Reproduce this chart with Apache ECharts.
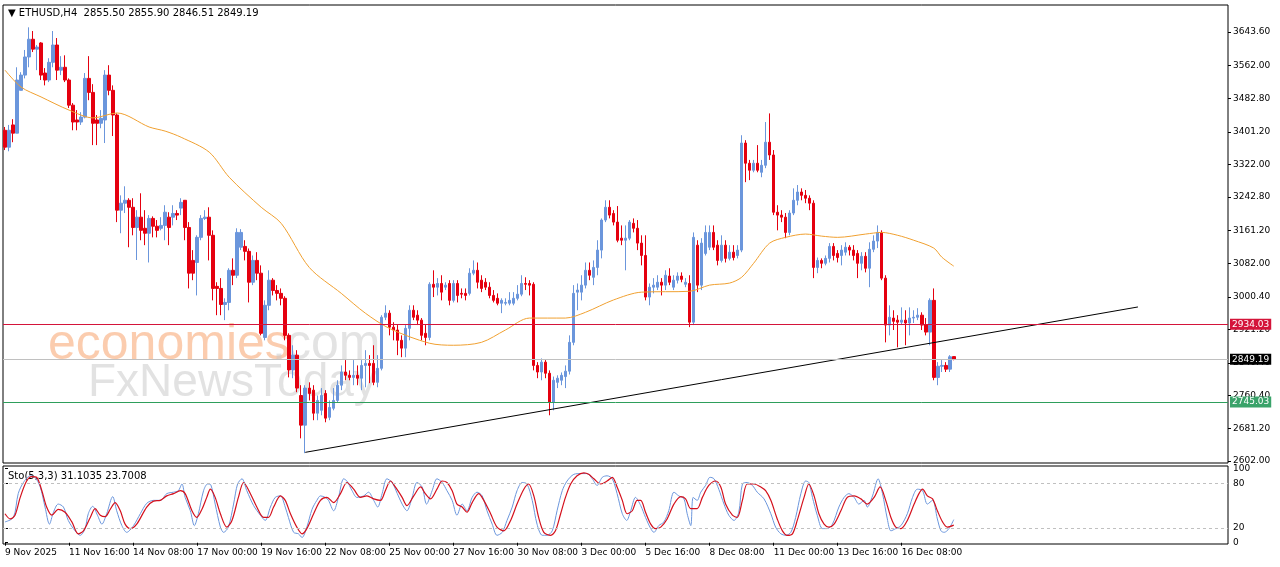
<!DOCTYPE html>
<html><head><meta charset="utf-8">
<script src="https://cdn.jsdelivr.net/npm/echarts@6/dist/echarts.min.js"></script>
<style>html,body{margin:0;padding:0;background:#fff}#c{width:1280px;height:567px}</style>
</head><body><div id="c"></div>
<script>
// [open, close, low, high]
const candles = [
[3405,3364,3357,3413],[3364,3405,3354,3418],[3418,3398,3376,3432],[3398,3527,3398,3558],[3502,3539,3502,3546],
[3539,3583,3531,3600],[3583,3626,3558,3655],[3626,3602,3595,3646],[3602,3607,3551,3612],[3617,3539,3527,3619],
[3544,3527,3514,3556],[3527,3570,3522,3580],[3570,3612,3558,3646],[3612,3551,3527,3629],[3551,3558,3539,3585],
[3558,3527,3522,3587],[3527,3466,3459,3531],[3466,3425,3405,3471],[3430,3425,3405,3454],[3425,3437,3418,3449],
[3437,3531,3434,3544],[3531,3497,3478,3585],[3497,3422,3369,3517],[3430,3422,3369,3442],[3422,3434,3410,3454],
[3430,3539,3374,3551],[3539,3502,3490,3563],[3502,3442,3391,3514],[3442,3211,3182,3446],[3211,3228,3155,3247],
[3228,3235,3204,3269],[3235,3218,3121,3240],[3218,3169,3150,3240],[3169,3194,3090,3211],[3194,3162,3138,3252],
[3167,3155,3126,3211],[3155,3191,3084,3199],[3191,3172,3145,3196],[3172,3162,3145,3187],[3167,3174,3162,3194],
[3174,3206,3138,3223],[3194,3169,3126,3206],[3194,3203,3174,3223],[3203,3199,3187,3211],[3216,3230,3199,3240],
[3235,3169,3138,3235],[3169,3058,3021,3182],[3089,3058,3041,3114],[3084,3145,3004,3150],[3145,3191,3138,3199],
[3191,3194,3187,3211],[3194,3150,3089,3218],[3150,3021,2992,3162],[3026,3021,2956,3036],[3021,2982,2956,3046],
[2982,2987,2944,2997],[2987,3065,2968,3070],[3065,3053,3029,3094],[3053,3157,3046,3167],[3121,3157,3114,3165],
[3123,3111,3089,3138],[3111,3036,2987,3118],[3036,3089,3029,3101],[3089,3058,3041,3109],[3058,2912,2907,3077],
[2902,2980,2895,2992],[2980,3041,2968,3065],[3041,3016,3004,3046],[3016,3009,2992,3029],[3009,2997,2980,3021],
[2997,2907,2895,3002],[2907,2823,2805,2912],[2823,2859,2803,2883],[2859,2779,2769,2871],[2761,2689,2657,2786],
[2689,2779,2621,2786],[2779,2766,2749,2793],[2774,2718,2701,2786],[2718,2749,2701,2761],[2725,2761,2713,2779],
[2766,2706,2696,2774],[2708,2732,2701,2749],[2730,2749,2725,2779],[2749,2786,2745,2798],[2786,2818,2774,2834],
[2818,2810,2798,2847],[2810,2805,2798,2822],[2805,2810,2786,2847],[2810,2803,2786,2834],[2803,2834,2774,2847],
[2834,2839,2781,2871],[2839,2834,2791,2859],[2839,2793,2786,2883],[2793,2827,2781,2859],[2827,2951,2822,2956],
[2951,2961,2944,2980],[2961,2927,2907,2968],[2927,2920,2895,2939],[2920,2895,2859,2932],[2895,2876,2854,2907],
[2876,2924,2854,2932],[2924,2968,2895,2980],[2968,2951,2944,2980],[2956,2944,2932,2968],[2944,2907,2895,2949],
[2912,2902,2883,2932],[2902,3031,2895,3036],[3031,3024,3000,3065],[3024,3033,3004,3046],[3033,3012,2992,3053],
[3024,3029,3017,3036],[3033,2992,2980,3041],[2992,3033,2987,3041],[3033,3004,2987,3041],[3009,3007,2997,3021],
[3009,3004,2992,3021],[3009,3058,3004,3070],[3058,3065,3053,3089],[3065,3036,3021,3084],[3041,3021,3012,3053],
[3036,3024,3017,3046],[3024,3004,2997,3036],[3004,2992,2987,3017],[2997,2985,2980,3009],[2985,2992,2961,2997],
[2985,2987,2980,2997],[2985,2992,2980,3012],[2985,2997,2980,3012],[2997,3007,2992,3029],[3007,3033,3002,3053],
[3033,3031,3017,3048],[3033,3029,3004,3041],[3031,2834,2822,3036],[2834,2818,2803,2842],[2818,2842,2798,2851],
[2842,2815,2803,2847],[2815,2744,2713,2822],[2744,2798,2725,2807],[2793,2803,2779,2810],[2798,2810,2786,2817],
[2807,2820,2779,2834],[2820,2890,2812,2907],[2890,3009,2883,3029],[3012,3017,2968,3033],[3012,3029,2992,3053],
[3029,3065,3021,3084],[3065,3053,3041,3084],[3048,3072,3029,3089],[3072,3114,3053,3138],[3114,3187,3094,3191],
[3187,3218,3182,3235],[3218,3199,3191,3235],[3203,3182,3174,3211],[3182,3138,3133,3221],[3143,3138,3126,3174],
[3138,3143,3065,3174],[3143,3182,3138,3187],[3179,3167,3157,3191],[3167,3131,3114,3187],[3131,3101,3077,3150],
[3101,3000,2992,3150],[3000,3024,2980,3033],[3024,3029,3009,3046],[3024,3036,3017,3053],[3036,3029,3004,3046],
[3029,3053,3017,3065],[3051,3036,3029,3070],[3024,3041,3017,3053],[3041,3051,3033,3060],[3051,3043,3036,3060],
[3031,3036,3024,3046],[3033,2939,2927,3053],[2939,3145,2932,3157],[3126,3029,3012,3138],[3029,3131,3017,3143],
[3106,3157,3101,3174],[3121,3157,3114,3174],[3157,3121,3114,3174],[3126,3089,3077,3138],[3089,3126,3084,3150],
[3126,3094,3084,3138],[3094,3109,3089,3126],[3109,3096,3089,3126],[3101,3114,3094,3126],[3114,3374,3109,3393],
[3374,3325,3279,3381],[3325,3308,3284,3333],[3308,3325,3303,3333],[3325,3308,3303,3369],[3303,3320,3291,3333],
[3320,3376,3313,3425],[3376,3345,3333,3446],[3345,3206,3199,3357],[3206,3199,3162,3223],[3199,3194,3182,3211],
[3194,3157,3143,3204],[3157,3204,3150,3211],[3204,3235,3199,3264],[3235,3255,3223,3272],[3255,3247,3235,3264],
[3247,3240,3228,3260],[3240,3228,3211,3247],[3228,3072,3046,3235],[3072,3089,3058,3096],[3089,3082,3070,3094],
[3082,3094,3077,3101],[3094,3123,3084,3131],[3123,3101,3089,3131],[3106,3096,3084,3114],[3101,3114,3077,3126],
[3109,3121,3101,3133],[3121,3114,3101,3126],[3114,3101,3089,3126],[3106,3082,3046,3114],[3082,3099,3065,3109],
[3099,3070,3060,3109],[3070,3116,3024,3133],[3116,3136,3109,3150],[3136,3157,3119,3174],[3157,3046,3041,3162],
[3046,2932,2890,3053],[2932,2951,2907,2980],[2949,2941,2920,2968],[2944,2939,2878,2956],[2939,2944,2932,2975],
[2944,2937,2883,2968],[2937,2949,2907,2975],[2949,2951,2937,2968],[2951,2956,2944,2973],[2956,2932,2920,2963],
[2932,2915,2907,2949],[2915,2992,2883,2997],[2992,2805,2798,3021],[2805,2832,2786,2842],[2832,2834,2818,2847],
[2834,2825,2818,2842],[2825,2855,2818,2859],[2855.50,2849.19,2846.51,2855.90]
];
// moving average trace [index, value]
const maPoints = [[0,3551],[4,3510],[9,3486],[16,3454],[22,3435],[28,3447],[36,3413],[40,3403],[44,3388],[51,3352],[56,3291],[64,3218],[69,3179],[76,3072],[84,3009],[90,2961],[96,2924],[106,2888],[112,2883],[119,2890],[125,2920],[131,2949],[140,2949],[145,2963],[152,2993],[159,3012],[171,3014],[176,3029],[181,3034],[184,3048],[187,3082],[191,3131],[195,3145],[200,3153],[204,3148],[208,3145],[215,3153],[219,3157],[223,3150],[227,3138],[232,3119],[234,3097],[237,3075]];
const stochK = [[0,28],[2.1,34],[3.3,66],[4.6,81],[6.3,90],[7.5,88],[8.8,75],[10,48],[11.1,25],[12.1,41],[13.3,52],[14.6,48],[15.8,30],[17.5,16],[18.8,10],[20,19],[20.8,39],[21.9,49],[23.1,37],[24.2,25],[25.4,39],[26.9,62],[27.9,43],[29.2,23],[30.4,14],[32.1,23],[33.8,39],[35.4,53],[37.1,57],[38.8,57],[40.4,66],[42.1,68],[43.3,70],[44.2,79],[45,61],[46.3,43],[47.3,23],[48.3,39],[49.6,70],[50.6,79],[51.4,78],[52.5,52],[53.8,21],[54.6,14],[55.8,21],[57.1,52],[58.1,79],[59.2,86],[60.4,70],[62.1,50],[63.8,37],[65,30],[66.3,48],[67.5,61],[68.8,63],[70,48],[70.8,34],[72.1,14],[73.3,12],[74.2,7],[75.4,21],[76.7,45],[77.9,57],
[78.8,63],[80,61],[80.8,57],[82.1,43],[83.3,61],[84.6,86],[85.4,83],[86.7,70],[87.9,61],[89.6,63],[90.8,68],[92.1,57],[93.1,48],[94.2,66],[95.4,86],[96.7,81],[98,66],[99.2,52],[100.4,43],[101.7,61],[102.9,81],[104.2,75],[105.3,52],[106.7,70],[107.9,86],[109.2,81],[110.4,70],[111.7,57],[112.9,37],[114.2,52],[115.4,43],[116.7,61],[117.9,68],[119.2,63],[120.4,43],[121.7,25],[122.9,10],[124.2,14],[125.4,30],[126.7,48],[127.9,70],[129.2,81],[130.4,79],[131.7,57],[132.9,25],[134.2,10],[135.4,10],[136.7,16],[137.9,43],[139.2,70],[140.4,83],[142.1,92],[143.8,93],[145.4,93],[146.7,86],[147.9,77],[149.2,88],[150.4,90],[151.7,86],[152.9,66],[154.2,39],[155.3,30],[156.3,43],[157.5,61],
[158.8,50],[160,34],[161.3,19],[162.1,14],[163.3,23],[164.6,28],[165.8,43],[167.1,68],[168.3,63],[169.6,59],[170.4,39],[171.3,23],[171.9,61],[172.9,57],[173.8,68],[175,77],[176.1,88],[177.1,86],[178.3,72],[179.6,52],[180.8,37],[182.1,30],[183.3,41],[184.2,79],[185.4,81],[186.7,77],[187.9,68],[189.6,59],[191.3,39],[192.5,21],[193.8,12],[195,10],[196.3,14],[197.5,34],[198.8,66],[200,83],[200.8,81],[201.7,61],[202.9,37],[204.2,19],[205.4,19],[206.7,25],[208.3,48],[209.6,61],[210.8,66],[212.1,61],[213.3,52],[214.6,57],[215.4,48],[216.7,63],[218.1,86],[219.2,66],[220.4,32],[221.3,16],[222.5,19],[223.8,23],[225.4,39],[226.7,61],[227.9,72],[229.2,70],[230.4,52],[231.7,57],[232.9,32],[233.8,16],[234.6,14],[235.8,19],[237,31.1]];
const stochD = [[0,39],[1.3,32],[2.5,37],[3.8,61],[5.4,83],[6.7,89],[7.9,88],[9.2,70],[10.4,48],[11.7,37],[13.3,45],[15,41],[16.7,28],[18.3,12],[19.6,16],[21.3,34],[22.5,46],[23.8,37],[25,35],[26.3,45],[27.5,54],[28.8,43],[30,25],[31.3,19],[32.9,25],[35.4,48],[37.1,56],[38.8,57],[40.4,63],[42.1,66],[43.8,70],[45,66],[46.7,43],[47.9,34],[49.2,45],[50.4,61],[51.3,72],[52.5,61],[53.8,39],[55.4,21],[56.7,30],[58.3,61],[59.6,81],[61.3,66],[62.9,48],[64.6,34],[65.8,34],[67.1,48],[68.8,63],[70,57],[71.3,39],[72.9,21],[74.2,12],[75.4,19],[77.1,39],
[78.8,57],[80.4,61],[82.1,54],[83.8,66],[85.4,81],[87.1,72],[88.8,61],[90.4,63],[92.1,59],[93.8,57],[95,70],[96.3,83],[97.5,75],[99.2,61],[100.4,50],[102.1,63],[103.8,75],[105,66],[106.3,59],[107.9,72],[109.2,83],[110.4,81],[111.7,70],[112.9,52],[114.2,48],[115.4,41],[116.7,54],[118.3,66],[119.6,57],[121.3,39],[122.9,21],[124.6,16],[126.3,30],[127.9,52],[129.6,72],[130.8,79],[132.1,63],[133.3,34],[134.6,14],[136.3,10],[137.5,16],[138.8,39],[140,61],[141.3,79],[142.9,90],[144.6,94],[145.8,92],[147.1,86],[148.8,79],[150.4,83],[151.7,88],[152.9,75],[154.2,57],[155.4,39],[156.7,43],[157.9,57],
[158.8,57],[160,41],[161.3,25],[162.5,19],[163.8,21],[165.4,32],[167.1,52],[168.8,62],[170,59],[171.3,46],[172.9,46],[174.2,61],[175.8,77],[177.5,83],[178.8,75],[180,52],[181.7,37],[182.9,34],[184.2,57],[185.4,79],[187.1,79],[188.8,75],[190,70],[191.3,57],[192.9,32],[194.2,16],[195.4,10],[196.7,12],[197.9,30],[199.6,61],[200.8,79],[202.1,63],[203.3,39],[204.6,25],[205.8,21],[207.1,25],[208.8,43],[210.4,61],[212.1,63],[213.8,59],[215.4,52],[217.1,61],[218.6,75],[220,57],[221.3,34],[222.5,21],[223.8,19],[225.4,30],[227.1,52],[228.3,66],[229.2,72],[230.4,63],[231.7,59],[232.9,43],[234.2,28],[235.4,21],[237,23.7]];
const dateLabels = ["9 Nov 2025","11 Nov 16:00","14 Nov 08:00","17 Nov 00:00","19 Nov 16:00","22 Nov 08:00","25 Nov 00:00","27 Nov 16:00","30 Nov 08:00","3 Dec 00:00","5 Dec 16:00","8 Dec 08:00","11 Dec 00:00","13 Dec 16:00","16 Dec 08:00"];
const priceTicks = [2602.00,2681.20,2760.40,2840.40,2921.20,3000.40,3082.00,3161.20,3242.80,3322.00,3401.20,3482.80,3562.00,3643.60];
const stochTicks = [0,20,80,100];
const levels = {resistance:2934.03, current:2849.19, support:2745.03};
const trendline = [[75,2623],[283,2976]];

const N = 306;
const cats = Array.from({length:N},(_,i)=>i);
const maData = new Array(N).fill(null);
maPoints.forEach(p=>maData[p[0]]=p[1]);
const up='#6b96dc', dn='#e5000f';
const ft='Tahoma, "DejaVu Sans", sans-serif';
const chart = echarts.init(document.getElementById('c'));
chart.setOption({
  animation:false,
  grid:[{left:3,top:5,width:1225,height:458,show:true,borderColor:'#000',borderWidth:1},
        {left:3,top:466,width:1225,height:78,show:true,borderColor:'#000',borderWidth:1}],
  xAxis:[
    {type:'category',gridIndex:0,data:cats,boundaryGap:true,axisLine:{show:false},axisTick:{show:false},axisLabel:{show:false},splitLine:{show:false}},
    {type:'value',gridIndex:1,min:-0.5,max:N-0.5,axisLine:{show:false},splitLine:{show:false},
     axisTick:{show:true,length:3,lineStyle:{color:'#000'},customValues:dateLabels.map((_,k)=>k*16)},
     axisLabel:{customValues:dateLabels.map((_,k)=>k*16),formatter:v=>dateLabels[Math.round(v/16)]||'',align:'left',margin:4,fontSize:9,fontFamily:ft,color:'#000'}}
  ],
  yAxis:[
    {type:'value',gridIndex:0,position:'right',min:2597.1,max:3709.2,splitLine:{show:false},
     axisLine:{show:false},axisTick:{show:true,length:3,lineStyle:{color:'#000'},customValues:priceTicks},
     axisLabel:{customValues:priceTicks,formatter:v=>v.toFixed(2),fontSize:9,fontFamily:ft,color:'#000',margin:5}},
    {type:'value',gridIndex:1,position:'right',min:-1.7,max:103.2,splitLine:{show:false},
     axisLine:{show:false},axisTick:{show:true,length:3,lineStyle:{color:'#000'},customValues:stochTicks},
     axisLabel:{customValues:stochTicks,fontSize:9,fontFamily:ft,color:'#000',margin:5}}
  ],
  series:[
    {type:'candlestick',xAxisIndex:0,yAxisIndex:0,data:candles,barWidth:3,
     itemStyle:{color:up,color0:dn,borderColor:up,borderColor0:dn,borderWidth:1},
     markLine:{silent:true,symbol:'none',animation:false,data:[
       [{coord:trendline[0],lineStyle:{color:'#000',width:1,type:'solid'},label:{show:false}},{coord:trendline[1]}],
       {yAxis:levels.resistance,lineStyle:{color:'#d4143a',width:1,type:'solid'},label:{show:true,position:'end',distance:2,formatter:levels.resistance.toFixed(2),color:'#fff',backgroundColor:'#d4143a',padding:[1,2],fontSize:9,fontFamily:ft}},
       {yAxis:levels.current,lineStyle:{color:'#c0c0c0',width:1,type:'solid'},label:{show:true,position:'end',distance:2,formatter:levels.current.toFixed(2),color:'#fff',backgroundColor:'#000',padding:[1,2],fontSize:9,fontFamily:ft}},
       {yAxis:levels.support,lineStyle:{color:'#2e9e5b',width:1,type:'solid'},label:{show:true,position:'end',distance:2,formatter:levels.support.toFixed(2),color:'#fff',backgroundColor:'#3aa36a',padding:[1,2],fontSize:9,fontFamily:ft}}
     ]}},
    {type:'line',xAxisIndex:0,yAxisIndex:0,data:maData,connectNulls:true,showSymbol:false,smooth:0.3,lineStyle:{color:'#f0a030',width:1}},
    {type:'line',xAxisIndex:1,yAxisIndex:1,data:stochK,showSymbol:false,smooth:0.3,lineStyle:{color:'#6b96dc',width:1},
     markLine:{silent:true,symbol:'none',label:{show:false},lineStyle:{color:'#c0c0c0',type:[3,3],width:1},data:[{yAxis:20},{yAxis:80}]}},
    {type:'line',xAxisIndex:1,yAxisIndex:1,data:stochD,showSymbol:false,smooth:0.3,lineStyle:{color:'#d4101c',width:1.2}}
  ],
  graphic:[
    {type:'text',left:48,top:320,z:-1,style:{text:'economies',font:'50px "Liberation Sans", Arial, sans-serif',fill:'rgba(248,170,120,0.6)'}},
    {type:'text',left:272,top:320,z:-1,style:{text:'.com',font:'50px "Liberation Sans", Arial, sans-serif',fill:'rgba(200,200,200,0.5)'}},
    {type:'text',left:88,top:360,z:-1,style:{text:'FxNewsToday',font:'46px "Liberation Sans", Arial, sans-serif',fill:'rgba(190,190,190,0.45)'}},
    {type:'text',left:8,top:8,style:{text:'▼ ETHUSD,H4  2855.50 2855.90 2846.51 2849.19',font:'10px '+ft,fill:'#000'}},
    {type:'text',left:8,top:471,style:{text:'Sto(5,3,3) 31.1035 23.7008',font:'10px '+ft,fill:'#000'}}
  ]
});
</script></body></html>
